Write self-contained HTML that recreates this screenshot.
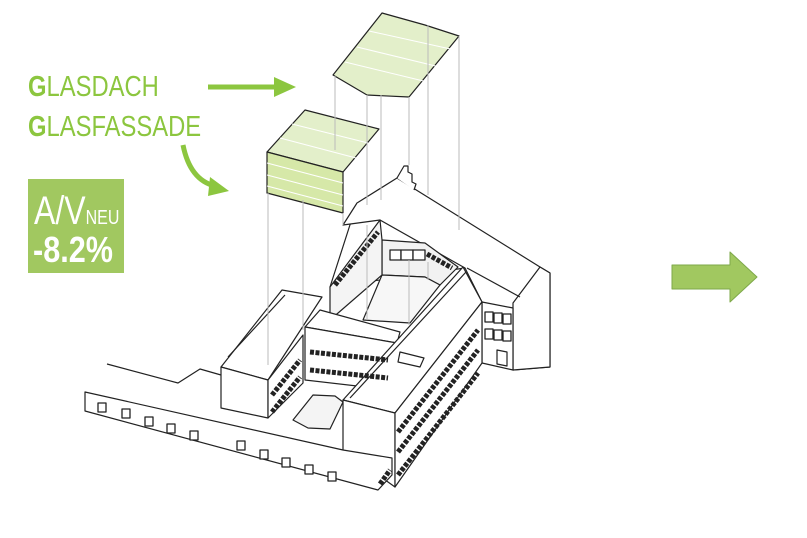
<!DOCTYPE html>
<html><head><meta charset="utf-8"><style>
body{margin:0;background:#fff;width:807px;height:538px;overflow:hidden;position:relative;font-family:"Liberation Sans Narrow","Liberation Sans",sans-serif}
.t{position:absolute;color:#8cc63f;font-size:29px;line-height:1;transform:scaleX(.82);transform-origin:left}
</style></head><body>
<div class="t" style="left:28px;top:73px"><b>G</b>LASDACH</div>
<div class="t" style="left:28px;top:113px"><b>G</b>LASFASSADE</div>
<div style="position:absolute;left:28px;top:179px;width:96px;height:94px;background:#a1c860;color:#fff">
<div style="position:absolute;left:6px;top:10px;font-size:40px;transform:scaleX(.8);transform-origin:left;white-space:nowrap">A/V<span style="font-size:20px">NEU</span></div>
<div style="position:absolute;left:5px;top:50px;font-size:36px;font-weight:bold;transform:scaleX(.85);transform-origin:left">-8.2%</div>
</div>
<svg width="807" height="538" style="position:absolute;left:0;top:0" fill="none" stroke="#222" stroke-width="1.2" stroke-linejoin="round">
<line x1="208" y1="87" x2="278" y2="87" stroke="#8cc63f" stroke-width="5"/>
<polygon points="274,77 296,87 274,97" fill="#8cc63f" stroke="none"/>
<path d="M183,145 Q190,180 215,186" stroke="#8cc63f" stroke-width="5"/>
<polygon points="210,177 229,191 208,196" fill="#8cc63f" stroke="none"/>
<polygon points="672,265 730,265 730,252 757,277 730,302 730,289 672,289" fill="#a1c860" stroke="#7ea84a" stroke-width="1"/>
<polygon points="333,75 382,13 425,25 459,36 409,97 367,95" fill="#e3efca"/>
<g stroke="#fff" stroke-width="1"><line x1="345" y1="62" x2="440" y2="85"/><line x1="357" y1="47" x2="452" y2="70"/><line x1="369" y1="31" x2="455" y2="50"/></g>
<polygon points="267,152 305,110 379,129 343,172" fill="#e3efca"/>
<polygon points="267,152 343,172 343,213 267,193" fill="#d6e8a8"/>
<g stroke="#fff" stroke-width="1"><line x1="267" y1="163" x2="343" y2="183"/><line x1="267" y1="175" x2="343" y2="195"/><line x1="267" y1="186" x2="343" y2="206"/><line x1="280" y1="138" x2="356" y2="158"/><line x1="292" y1="124" x2="368" y2="143"/></g>
<g fill="#fff">
<polygon points="357,203 397,178 540,267 550,273 550,367 513,370 482,302 465,268 330,287"/>
<polyline points="397,178 404,166 408,166 408,172 412,174 412,182 416,184 414,190"/>
<polyline points="357,203 343,225 380,220 465,268"/>
<polygon points="513,303 540,267 550,273 550,367 513,370"/>
<polygon points="482,302 513,308 513,370 482,363"/>
<polygon points="497,364 497,350 507,352 507,366" fill="#fff"/>
<line x1="467" y1="268" x2="520" y2="297"/>
<polygon points="382,240 425,243 458,267 440,285 425,277 382,275" fill="#f2f2f2"/>
<polygon points="382,275 425,277 440,285 410,323 363,320" fill="#f7f7f7"/>
<polygon points="380,220 382,240 382,275 330,320 330,287" fill="#f4f4f4"/>
<polygon points="221,367 282,290 322,297 268,380"/>
<polygon points="221,367 268,380 268,418 221,408"/>
<polygon points="268,380 303,335 303,383 268,418"/>
<line x1="228" y1="357" x2="285" y2="295"/>
<polygon points="305,327 320,310 400,332 397,343"/>
<polygon points="305,327 397,343 392,390 305,380"/>
<polygon points="343,400 463,267 482,302 395,413"/>
<line x1="350" y1="398" x2="466" y2="272"/>
<polygon points="343,400 395,413 395,487 343,450"/>
<polygon points="395,413 482,302 482,363 395,487"/>
<polygon points="400,352 424,358 420,367 398,362" fill="#fff"/>
<polygon points="293,420 313,395 335,396 343,402 330,429 308,428" fill="#f4f4f4"/>
<polygon points="85,392 343,450 392,458 392,475 378,490 85,411"/>
<polyline points="107,364 178,383 200,369 221,375"/>
</g>
<g fill="#fff" stroke="#222" stroke-width="1.3">
<rect x="98" y="403" width="8" height="9"/><rect x="122" y="409" width="8" height="9"/><rect x="145" y="417" width="8" height="9"/><rect x="167" y="424" width="8" height="9"/><rect x="190" y="431" width="8" height="9"/>
<rect x="237" y="441" width="8" height="9"/><rect x="260" y="450" width="8" height="9"/><rect x="282" y="458" width="8" height="9"/><rect x="305" y="465" width="8" height="9"/><rect x="328" y="472" width="8" height="9"/>
<rect x="390" y="250" width="11" height="10"/><rect x="401" y="250" width="12" height="10"/><rect x="413" y="250" width="12" height="10"/>
<rect x="485" y="312" width="8" height="10"/><rect x="494" y="313" width="8" height="10"/><rect x="503" y="314" width="8" height="10"/>
<rect x="485" y="329" width="8" height="10"/><rect x="494" y="330" width="8" height="10"/><rect x="503" y="331" width="8" height="10"/>
</g>
<g stroke="#222" stroke-width="5" stroke-dasharray="4 1.5">
<line x1="310" y1="352" x2="388" y2="360"/><line x1="310" y1="370" x2="388" y2="378"/>
<line x1="272" y1="395" x2="300" y2="360"/><line x1="272" y1="412" x2="300" y2="377"/>
<line x1="398" y1="432" x2="478" y2="330"/><line x1="398" y1="452" x2="478" y2="350"/><line x1="398" y1="475" x2="478" y2="373"/>
<line x1="335" y1="285" x2="378" y2="232"/>
<line x1="427" y1="254" x2="452" y2="268"/>
<line x1="380" y1="484" x2="390" y2="470"/>
</g>
<g stroke="#bbb" stroke-width="1">
<line x1="268" y1="193" x2="268" y2="365"/><line x1="303" y1="200" x2="303" y2="330"/>
<line x1="343" y1="213" x2="343" y2="225"/><line x1="335" y1="76" x2="335" y2="150"/>
<line x1="367" y1="95" x2="367" y2="205"/><line x1="381" y1="95" x2="381" y2="200"/>
<line x1="409" y1="97" x2="409" y2="165"/><line x1="428" y1="25" x2="428" y2="195"/>
<line x1="459" y1="36" x2="459" y2="230"/>
<line x1="367" y1="225" x2="367" y2="320"/><line x1="409" y1="260" x2="409" y2="325"/><line x1="428" y1="262" x2="428" y2="280"/>
</g>
</svg>
</body></html>
